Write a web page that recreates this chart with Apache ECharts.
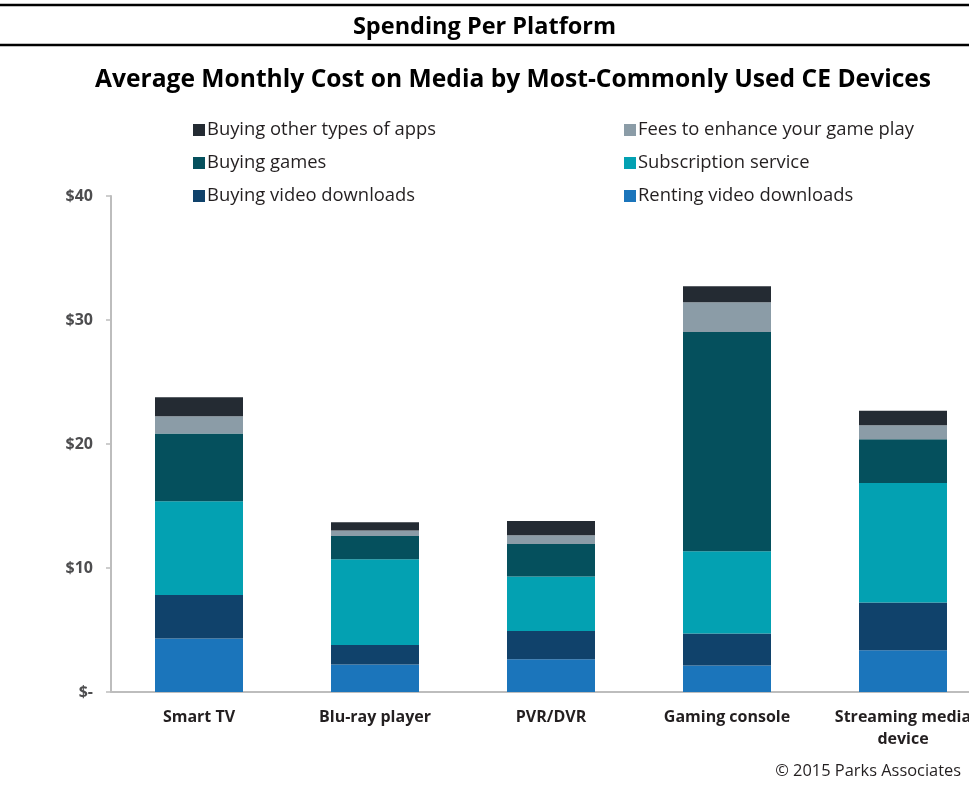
<!DOCTYPE html>
<html><head><meta charset="utf-8">
<script src="https://cdn.jsdelivr.net/npm/echarts@6/dist/echarts.min.js"></script>
<style>html,body{margin:0;padding:0;background:#fff}#c{width:969px;height:792px}</style>
</head><body><div id="c"></div>
<script>
const categories = ['Smart TV', 'Blu-ray player', 'PVR/DVR', 'Gaming console', 'Streaming media\ndevice'];
const rentingVideo = [4.31, 2.21, 2.64, 2.13, 3.36];
const buyingVideo = [3.51, 1.58, 2.28, 2.58, 3.85];
const subscription = [7.56, 6.91, 4.39, 6.64, 9.64];
const buyingGames = [5.46, 1.88, 2.63, 17.68, 3.53];
const gameFees = [1.39, 0.44, 0.70, 2.40, 1.13];
const otherApps = [1.54, 0.67, 1.15, 1.29, 1.18];
const yTicks = [0, 10, 20, 30, 40];

const FONT = 'Open Sans';
const seriesDefs = [
  {name: 'Renting video downloads', data: rentingVideo, color: '#1b75bb'},
  {name: 'Buying video downloads', data: buyingVideo, color: '#10426b'},
  {name: 'Subscription service', data: subscription, color: '#03a1b2'},
  {name: 'Buying games', data: buyingGames, color: '#05505d'},
  {name: 'Fees to enhance your game play', data: gameFees, color: '#8b9ca7'},
  {name: 'Buying other types of apps', data: otherApps, color: '#242b33'}
];

const chart = echarts.init(document.getElementById('c'), null, {renderer: 'canvas'});
const legendCommon = {
  orient: 'vertical', top: 116, itemWidth: 12, itemHeight: 12, itemGap: 15,
  icon: 'rect', selectedMode: false,
  textStyle: {fontFamily: FONT, fontSize: 18.4, color: '#231f20', padding: [0, 0, 0, -3]}
};
chart.setOption({
  animation: false,
  title: [
    {text: 'Spending Per Platform', left: 'center', top: 10,
     textStyle: {fontFamily: FONT, fontWeight: 'bold', fontSize: 23.5, color: '#000'}},
    {text: 'Average Monthly Cost on Media by Most-Commonly Used CE Devices', left: 90, top: 62,
     textStyle: {fontFamily: FONT, fontWeight: 'bold', fontSize: 24.6, color: '#000'}},
    {text: '© 2015 Parks Associates', right: 3, top: 758,
     textStyle: {fontFamily: FONT, fontWeight: 'normal', fontSize: 16.4, color: '#231f20'}}
  ],
  graphic: [
    {type: 'line', shape: {x1: 0, y1: 5, x2: 969, y2: 5}, style: {stroke: '#000', lineWidth: 2.5}},
    {type: 'line', shape: {x1: 0, y1: 45, x2: 969, y2: 45}, style: {stroke: '#000', lineWidth: 2.5}}
  ],
  legend: [
    Object.assign({left: 188, data: ['Buying other types of apps', 'Buying games', 'Buying video downloads']}, legendCommon),
    Object.assign({left: 619, data: ['Fees to enhance your game play', 'Subscription service', 'Renting video downloads']}, legendCommon)
  ],
  grid: {left: 111, width: 880, top: 196, bottom: 100, containLabel: false, outerBoundsMode: 'none'},
  xAxis: {
    type: 'category', data: categories,
    axisLine: {lineStyle: {color: '#bdbdbd', width: 2}},
    axisTick: {show: false},
    axisLabel: {fontFamily: FONT, fontWeight: 'bold', fontSize: 16, color: '#231f20', margin: 14, lineHeight: 22, interval: 0}
  },
  yAxis: {
    type: 'value', min: 0, max: 40, interval: 10,
    axisLine: {show: true, lineStyle: {color: '#bdbdbd', width: 2}},
    axisTick: {show: true, length: 5, lineStyle: {color: '#bdbdbd', width: 1.5}},
    splitLine: {show: false},
    axisLabel: {fontFamily: FONT, fontWeight: 'bold', fontSize: 16, color: '#4d4d4f', margin: 18,
      formatter: v => yTicks.indexOf(v) === 0 ? '$-' : '$' + v}
  },
  series: seriesDefs.map(s => ({
    name: s.name, type: 'bar', stack: 'total', data: s.data, barWidth: '50%',
    itemStyle: {color: s.color}
  }))
});
</script></body></html>
